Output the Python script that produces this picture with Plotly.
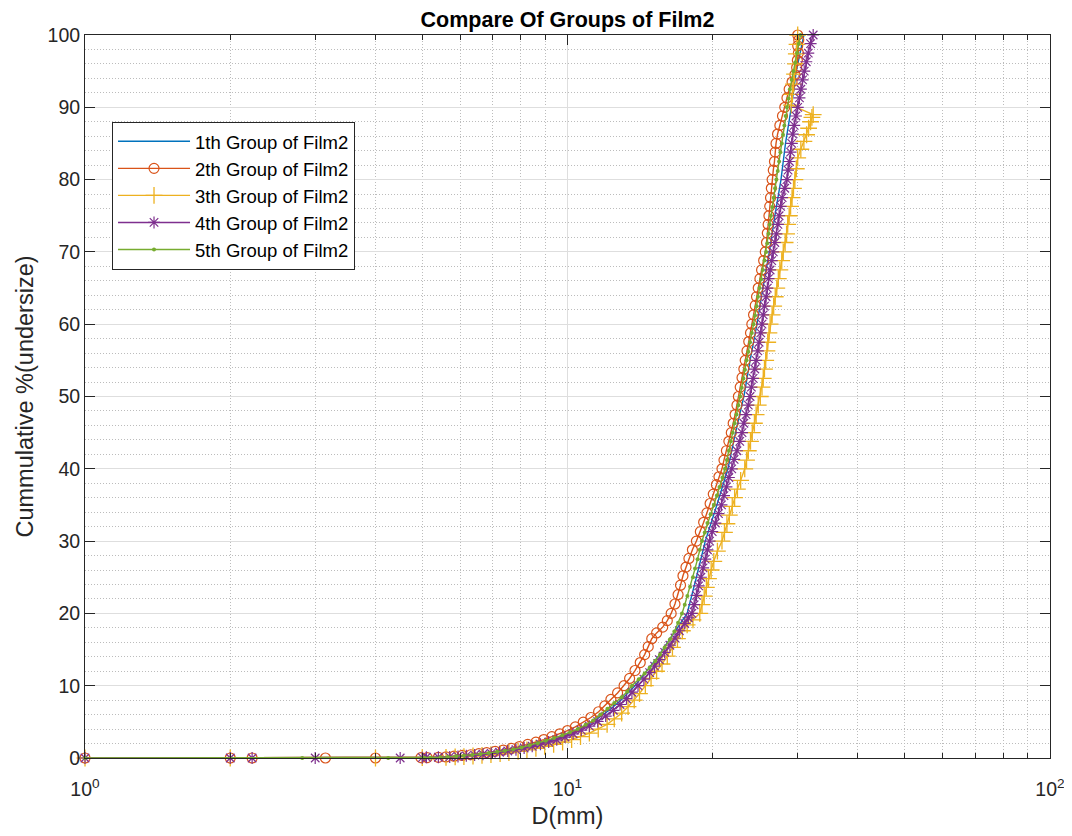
import plotly.graph_objects as go

# ---------------- data ----------------
names = ["1th Group of Film2", "2th Group of Film2", "3th Group of Film2",
         "4th Group of Film2", "5th Group of Film2"]

# 1th group (line only)
g1_x = [1.0, 2.0, 2.22, 5.0, 5.8, 6.6, 7.4, 8.2, 9.0, 9.8, 10.6, 11.4, 12.2, 12.9, 13.8, 14.6,
        15.4, 16.2, 17.0, 17.7, 18.5, 19.3, 20.4, 21.5, 22.3, 23.2, 23.9, 24.7, 25.4, 26.2, 26.9,
        27.7, 28.3, 29.1, 29.8, 30.9]
g1_y = [0, 0, 0, 0.05, 0.2, 0.5, 0.9, 1.5, 2.2, 3.0, 4.0, 5.2, 6.6, 8.0, 10.0, 12.0,
        14.0, 16.2, 18.2, 20.0, 25.0, 30.0, 35.0, 40.0, 45.0, 50.0, 55.0, 60.0, 65.0, 70.0, 75.0,
        80.0, 85.0, 90.0, 95.0, 100.0]

# 2th group (circles)
g2_x = [1.0, 2.0, 2.22, 3.15, 4.0, 4.97, 5.12,
        5.4, 5.6, 5.82, 6.05, 6.3, 6.55, 6.8, 7.08, 7.36, 7.65, 7.95, 8.27, 8.6, 8.93, 9.28,
        9.64, 10.0, 10.38, 10.78, 11.18, 11.6,
        11.95, 12.3, 12.7, 13.1, 13.45, 13.8, 14.15, 14.45, 14.7, 14.95, 15.3, 15.75, 16.1, 16.4,
        16.7, 16.95, 17.15, 17.35, 17.6, 17.85, 18.15, 18.5, 18.85, 19.15, 19.45, 19.75, 20.05,
        20.35, 20.6, 20.9, 21.1, 21.35, 21.6, 21.85, 22.05, 22.25, 22.45, 22.6, 22.8, 23.0,
        23.2, 23.35, 23.55, 23.75, 23.95, 24.1, 24.3, 24.5, 24.65, 24.85, 25.05, 25.25, 25.5,
        25.7, 25.85, 25.95, 26.05, 26.15, 26.25, 26.35, 26.45, 26.55, 26.7, 26.85, 26.95, 27.05,
        27.25, 27.55, 27.9, 28.2, 28.5, 28.8, 29.2, 29.6, 29.85, 29.95, 30.1, 30.0, 30.15, 30.0]
g2_y = [0, 0, 0, 0, 0, 0.05, 0.05,
        0.1, 0.15, 0.25, 0.35, 0.45, 0.6, 0.75, 0.92, 1.1, 1.32, 1.58, 1.88, 2.2, 2.55, 2.95,
        3.35, 3.8, 4.3, 4.95, 5.6, 6.4,
        7.2, 8.1, 9.0, 10.0, 11.0, 12.1, 13.2, 14.3, 15.4, 16.5, 17.3, 18.1, 19.0, 20.0,
        21.3, 22.6, 23.9, 25.2, 26.4, 27.6, 28.8, 30.0, 31.3, 32.6, 33.9, 35.2, 36.5,
        37.8, 38.9, 40.0, 41.2, 42.5, 43.8, 45.0, 46.3, 47.5, 48.8, 50.0, 51.3, 52.6,
        53.8, 55.0, 56.3, 57.6, 58.8, 60.0, 61.3, 62.6, 63.8, 65.0, 66.3, 67.5, 68.8,
        70.0, 71.3, 72.6, 73.8, 75.0, 76.3, 77.5, 78.8, 80.0, 81.3, 82.5, 83.8, 85.0,
        86.3, 87.5, 88.8, 90.0, 91.3, 92.5, 93.5, 94.5, 95.5, 96.5, 97.5, 98.5, 99.3, 100.0]

# 3th group (plus signs)
g3_x = [1.0, 2.0, 4.0, 5.0,
        5.6, 5.85, 6.1, 6.37, 6.65, 6.94, 7.25, 7.56, 7.9, 8.24, 8.6, 8.97, 9.36, 9.77, 10.2,
        10.64, 11.1, 11.58, 12.08,
        12.5, 12.95, 13.35, 13.75, 14.1, 14.5, 14.9, 15.3, 15.7, 16.1, 16.5, 16.9, 17.3, 17.7,
        18.2, 18.8, 19.0, 19.2, 19.4, 19.6, 19.85, 20.1, 20.45, 20.9, 21.15, 21.4, 21.65, 21.95,
        22.2, 22.5, 22.85, 23.3, 23.5, 23.7, 23.95, 24.15, 24.4, 24.6, 24.85, 25.1, 25.3, 25.45,
        25.6, 25.75, 25.9, 26.0, 26.15, 26.3, 26.55, 26.75, 26.95, 27.15, 27.35, 27.55, 27.8,
        28.0, 28.25, 28.45, 28.6, 28.8, 29.0, 29.2, 29.4, 29.6, 29.8, 30.0, 30.45, 30.9, 31.3,
        31.6, 31.9, 32.1, 32.3, 29.1, 29.25, 29.4, 29.55, 29.7, 29.8, 29.9, 30.0]
g3_y = [0, 0, 0, 0.05,
        0.1, 0.15, 0.2, 0.28, 0.37, 0.48, 0.6, 0.75, 0.92, 1.12, 1.35, 1.6, 1.9, 2.2, 2.55,
        2.95, 3.45, 4.0, 4.65,
        5.4, 6.2, 7.1, 8.0, 8.9, 10.0, 11.0, 12.0, 13.0, 14.1, 15.3, 16.5, 17.6, 18.4,
        19.1, 20.0, 21.2, 22.4, 23.6, 24.8, 26.0, 27.2, 28.6, 30.0, 31.2, 32.4, 33.6, 34.8,
        36.0, 37.2, 38.4, 40.0, 41.2, 42.5, 43.8, 45.0, 46.3, 47.5, 48.8, 50.0, 51.3, 52.5,
        53.8, 55.0, 56.3, 57.5, 58.8, 60.0, 61.3, 62.5, 63.8, 65.0, 66.3, 67.5, 68.8,
        70.0, 71.3, 72.5, 73.8, 75.0, 76.3, 77.5, 78.8, 80.0, 81.5, 83.0, 84.2, 85.3, 86.2,
        87.1, 88.0, 88.6, 89.0, 90.3, 91.8, 93.2, 94.6, 96.0, 97.4, 98.7, 100.0]

# 4th group (asterisks)
g4_x = [1.0, 2.0, 2.22, 3.0, 4.5, 5.0, 5.1, 5.4,
        5.7, 5.93, 6.17, 6.42, 6.68, 6.95, 7.23, 7.52, 7.82, 8.13, 8.45, 8.79, 9.14, 9.5, 9.88,
        10.27, 10.68, 11.1, 11.55, 12.0,
        12.45, 12.85, 13.25, 13.6, 14.0, 14.4, 14.8, 15.15, 15.5, 15.9, 16.3, 16.7, 17.05, 17.5,
        17.8, 18.1, 18.3, 18.5, 18.7, 18.9, 19.1, 19.3, 19.5, 19.7, 19.95, 20.25, 20.55, 20.85,
        21.1, 21.35, 21.6, 21.9, 22.15, 22.45, 22.75, 23.0, 23.2, 23.45, 23.7, 23.9, 24.05,
        24.25, 24.45, 24.6, 24.8, 24.95, 25.15, 25.3, 25.45, 25.6, 25.8, 25.95, 26.1, 26.3,
        26.5, 26.7, 26.9, 27.1, 27.3, 27.45, 27.65, 27.85, 28.2, 28.5, 28.65, 28.85, 29.0,
        29.15, 29.3, 29.5, 29.75, 30.0, 30.25, 30.45, 30.7, 30.95, 31.25, 31.55, 31.9, 32.3]
g4_y = [0, 0, 0, 0, 0, 0.05, 0.1, 0.1,
        0.15, 0.22, 0.3, 0.4, 0.52, 0.65, 0.8, 0.97, 1.15, 1.38, 1.62, 1.9, 2.2, 2.52, 2.9,
        3.35, 3.85, 4.4, 5.05, 5.8,
        6.6, 7.4, 8.2, 9.1, 10.0, 10.9, 11.8, 12.7, 13.6, 14.6, 15.6, 16.6, 17.6, 18.6,
        19.4, 20.0, 21.2, 22.5, 23.8, 25.0, 26.3, 27.5, 28.8, 30.0, 31.3, 32.5, 33.8, 35.0,
        36.3, 37.5, 38.8, 40.0, 41.3, 42.5, 43.8, 45.0, 46.3, 47.5, 48.8, 50.0, 51.3,
        52.5, 53.8, 55.0, 56.3, 57.5, 58.8, 60.0, 61.3, 62.5, 63.8, 65.0, 66.3, 67.5,
        68.8, 70.0, 71.3, 72.5, 73.8, 75.0, 76.3, 77.5, 78.8, 80.0, 81.3, 82.5, 83.8,
        85.0, 86.3, 87.5, 88.8, 90.0, 91.3, 92.5, 93.8, 95.0, 96.3, 97.5, 98.8, 100.0]

# 5th group (dots)
g5_x = [1.0, 2.82, 4.25, 5.05, 5.2,
        5.45, 5.65, 5.88, 6.1, 6.35, 6.6, 6.87, 7.15, 7.42, 7.72, 8.03, 8.35, 8.68, 9.02, 9.38,
        9.75, 10.12, 10.5, 10.9, 11.3, 11.7,
        12.1, 12.5, 12.95, 13.3, 13.6, 14.05, 14.45, 14.8, 15.2, 15.55, 15.9, 16.3, 16.65, 16.95,
        17.27, 17.5, 17.72, 17.95, 18.2, 18.38, 18.6, 18.8, 19.0, 19.25, 19.5, 19.8, 20.1,
        20.4, 20.65, 20.95, 21.2, 21.4, 21.6, 21.8, 22.0, 22.2, 22.4, 22.6, 22.8, 22.97, 23.15,
        23.32, 23.5, 23.7, 23.9, 24.1, 24.3, 24.47, 24.65, 24.82, 25.0, 25.2, 25.4, 25.6, 25.8,
        25.95, 26.1, 26.25, 26.4, 26.57, 26.75, 26.93, 27.1, 27.27, 27.45, 27.62, 27.8, 27.97,
        28.15, 28.32, 28.5, 28.7, 28.9, 29.15, 29.4, 29.65, 29.9, 30.15, 30.4]
g5_y = [0, 0, 0, 0.05, 0.05,
        0.1, 0.15, 0.25, 0.3, 0.42, 0.55, 0.68, 0.85, 1.0, 1.2, 1.45, 1.75, 2.05, 2.4, 2.75,
        3.15, 3.55, 4.0, 4.6, 5.2, 6.0,
        6.8, 7.6, 8.4, 9.2, 10.0, 10.9, 11.7, 12.5, 13.4, 14.3, 15.3, 16.4, 17.5, 18.7,
        20.0, 21.2, 22.4, 23.7, 25.0, 26.2, 27.5, 28.8, 30.0, 31.2, 32.5, 33.7, 35.0,
        36.3, 37.5, 38.8, 40.0, 41.2, 42.5, 43.8, 45.0, 46.3, 47.5, 48.8, 50.0, 51.2, 52.5,
        53.7, 55.0, 56.2, 57.5, 58.8, 60.0, 61.2, 62.5, 63.8, 65.0, 66.2, 67.5, 68.8, 70.0,
        71.2, 72.5, 73.8, 75.0, 76.2, 77.5, 78.8, 80.0, 81.2, 82.5, 83.8, 85.0, 86.2,
        87.5, 88.8, 90.0, 91.2, 92.5, 93.8, 95.0, 96.2, 97.5, 98.8, 100.0]

x_tick_vals = [1, 10, 100]
x_tick_text = ["10<sup>0</sup>", "10<sup>1</sup>", "10<sup>2</sup>"]
y_tick_vals = [0, 10, 20, 30, 40, 50, 60, 70, 80, 90, 100]
x_minor_vals = [2, 3, 4, 5, 6, 7, 8, 9, 20, 30, 40, 50, 60, 70, 80, 90]

colors = ["#0072BD", "#D95319", "#EDB120", "#7E2F8E", "#77AC30"]

# ---------------- figure ----------------
fig = go.Figure()
series = [(g1_x, g1_y), (g2_x, g2_y), (g3_x, g3_y), (g4_x, g4_y), (g5_x, g5_y)]
markers = [
    None,
    dict(symbol="circle-open", size=10, line=dict(width=1.2)),
    dict(symbol="cross-thin-open", size=12, line=dict(width=1.3)),
    dict(symbol="asterisk-open", size=10, line=dict(width=1.2)),
    dict(symbol="circle", size=4),
]
for (xs, ys), nm, c, mk in zip(series, names, colors, markers):
    if mk is None:
        fig.add_trace(go.Scatter(x=xs, y=ys, name=nm, mode="lines",
                                 line=dict(color=c, width=1.4), cliponaxis=False))
    else:
        mk = dict(mk)
        mk["color"] = c
        if "line" in mk:
            mk["line"] = dict(mk["line"], color=c)
        fig.add_trace(go.Scatter(x=xs, y=ys, name=nm, mode="lines+markers",
                                 line=dict(color=c, width=1.4), marker=mk,
                                 cliponaxis=False))

FONT = "Liberation Sans, Arial, sans-serif"
tick_font = dict(family=FONT, size=19.5, color="#262626")

# page body has an 8px margin, so the figure is sized/margined to compensate
fig.update_layout(
    width=1064, height=828,
    margin=dict(l=77, r=22, t=27, b=78),
    paper_bgcolor="white", plot_bgcolor="white",
    font=dict(family=FONT, color="#262626"),
    title=dict(text="<b>Compare Of Groups of Film2</b>", x=0.5, xref="paper",
               xanchor="center", y=0.9955, yanchor="top",
               font=dict(size=21.5, color="black")),
    showlegend=True,
    legend=dict(x=0.028, y=0.88, xanchor="left", yanchor="top",
                bgcolor="white", bordercolor="#262626", borderwidth=1,
                font=dict(size=18.5, color="black"), tracegroupgap=0,
                itemwidth=72),
)

fig.update_xaxes(
    type="log", range=[0, 2], automargin=False,
    tickvals=x_tick_vals, ticktext=x_tick_text, tickfont=tick_font,
    ticklabelstandoff=14,
    title=dict(text="D(mm)", font=dict(size=23.5, color="#262626"), standoff=8),
    showline=True, linecolor="#262626", linewidth=1, mirror="ticks",
    ticks="inside", ticklen=10, tickcolor="#262626",
    showgrid=True, gridcolor="#dedede", gridwidth=1.3,
    zeroline=False,
    minor=dict(tickvals=x_minor_vals, ticks="inside", ticklen=5, tickcolor="#262626",
               showgrid=True, gridcolor="#bcbcbc", griddash="1px,2px", gridwidth=1),
)
fig.update_yaxes(
    range=[0, 100], automargin=False,
    tickvals=y_tick_vals, tickfont=tick_font,
    title=dict(text="Cummulative %(undersize)", font=dict(size=23.5, color="#262626"),
               standoff=7),
    showline=True, linecolor="#262626", linewidth=1, mirror="ticks",
    ticks="inside", ticklen=10, tickcolor="#262626",
    showgrid=True, gridcolor="#dedede", gridwidth=1.3,
    zeroline=False,
    minor=dict(dtick=2, ticks="", showgrid=True, gridcolor="#bcbcbc",
               griddash="1px,2px", gridwidth=1),
)

fig.write_html("out.html")
